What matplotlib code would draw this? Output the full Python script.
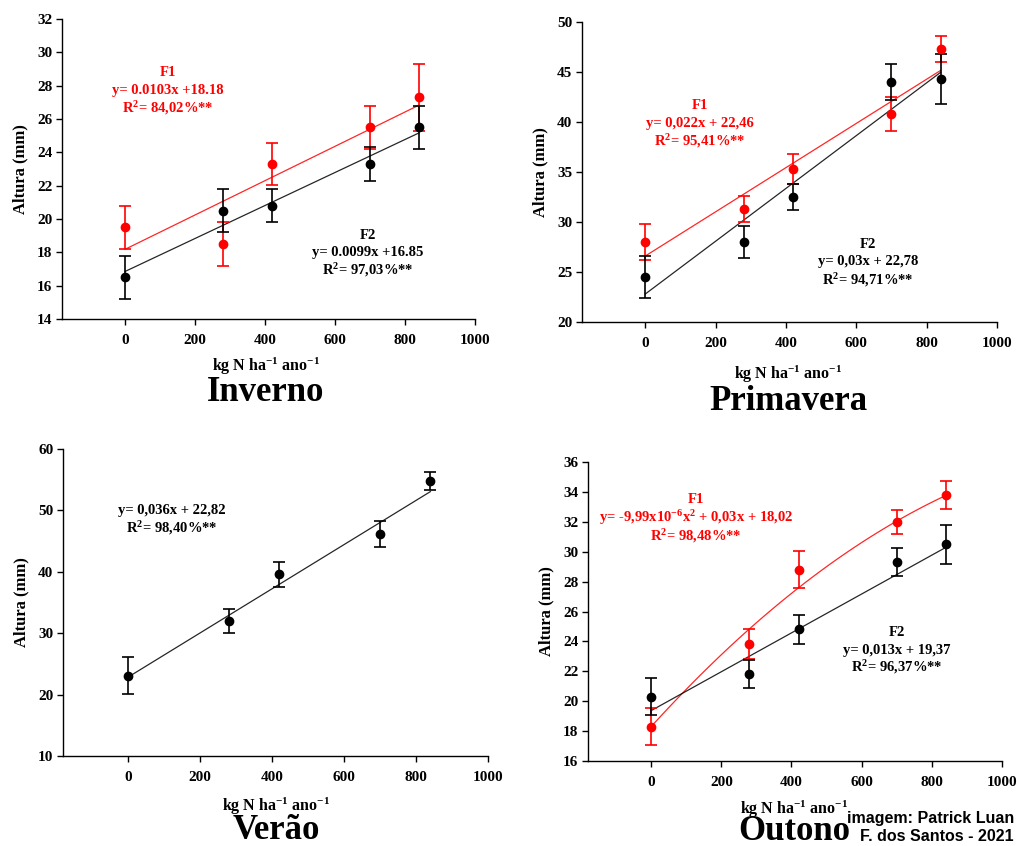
import matplotlib

matplotlib.use("Agg")
import matplotlib.pyplot as plt
import numpy as np

plt.rcParams["font.family"] = ["Liberation Serif", "DejaVu Serif"]
plt.rcParams["font.weight"] = "bold"
plt.rcParams["mathtext.fontset"] = "custom"
plt.rcParams["mathtext.rm"] = "Liberation Serif:bold"
plt.rcParams["mathtext.it"] = "Liberation Serif:bold"
plt.rcParams["mathtext.bf"] = "Liberation Serif:bold"
plt.rcParams["mathtext.default"] = "rm"

RED = "#ff0000"
BLACK = "#000000"

doses = [0, 280, 420, 700, 840]

# Inverno
inv_f1 = [19.5, 18.5, 23.3, 25.5, 27.3]
inv_f1_err = [1.3, 1.3, 1.25, 1.3, 2.0]
inv_f2 = [16.5, 20.5, 20.8, 23.3, 25.5]
inv_f2_err = [1.3, 1.3, 1.0, 1.0, 1.3]
inv_fit_f1 = [0.0103, 18.18]
inv_fit_f2 = [0.0099, 16.85]

# Primavera
pri_f1 = [28.0, 31.3, 35.3, 40.8, 47.3]
pri_f1_err = [1.8, 1.3, 1.5, 1.7, 1.3]
pri_f2 = [24.5, 28.0, 32.5, 44.0, 44.3]
pri_f2_err = [2.1, 1.6, 1.3, 1.8, 2.5]
pri_fit_f1 = [0.0221, 26.6]
pri_fit_f2 = [0.0264, 22.8]

# Verao
ver_f = [23.1, 32.0, 39.6, 46.2, 54.8]
ver_f_err = [3.0, 2.0, 2.0, 2.1, 1.5]
ver_fit = [0.036, 22.82]

# Outono
out_f1 = [18.3, 23.8, 28.8, 32.0, 33.8]
out_f1_err = [1.25, 1.0, 1.25, 0.8, 0.95]
out_f2 = [20.3, 21.8, 24.8, 29.3, 30.5]
out_f2_err = [1.25, 0.95, 0.95, 0.95, 1.3]
out_fit_f1 = [-8.8e-6, 0.0258, 18.3]
out_fit_f2 = [0.013, 19.37]

XLABEL = "kg N ha$^{-1}$ ano$^{-1}$"


def axes_box(left, top, right, bottom, w=1017, h=846):
    return [left / w, 1 - bottom / h, (right - left) / w, (bottom - top) / h]


def style_axes(ax, ylim, yticks):
    ax.set_xlim(-180, 1000)
    ax.set_ylim(*ylim)
    ax.set_xticks(range(0, 1001, 200))
    ax.set_yticks(yticks)
    for side in ("top", "right"):
        ax.spines[side].set_visible(False)
    for side in ("left", "bottom"):
        ax.spines[side].set_linewidth(1.0)
    ax.tick_params(axis="both", direction="out", length=4, width=1.0, labelsize=11)
    ax.tick_params(axis="x", pad=7)
    ax.tick_params(axis="y", pad=3)
    for lab in ax.get_xticklabels() + ax.get_yticklabels():
        lab.set_fontweight("bold")
    ax.set_ylabel("Altura (mm)", fontsize=12, fontweight="bold", labelpad=6)


def points(ax, y, err, color):
    ax.errorbar(doses, y, yerr=err, fmt="o", color=color, ms=6, elinewidth=1.2,
                capsize=4, capthick=1.2, ecolor=color, zorder=3)


def fit_line(ax, coefs, color):
    xs = np.linspace(doses[0], doses[-1], 100)
    ax.plot(xs, np.polyval(coefs, xs), color=color, lw=0.9, alpha=0.85, zorder=2)


def eq_text(ax, x, ys, lines, color):
    for y, s in zip(ys, lines):
        ax.text(x, y, s, transform=ax.transAxes, ha="center", va="center",
                fontsize=10.5, fontweight="bold", color=color)


def fig_text(x, y, s, **kw):
    fig.text(x / 1017, 1 - y / 846, s, **kw)


fig = plt.figure(figsize=(10.17, 8.46), dpi=100)

# Inverno
ax1 = fig.add_axes(axes_box(62, 19, 475, 319))
points(ax1, inv_f1, inv_f1_err, RED)
points(ax1, inv_f2, inv_f2_err, BLACK)
fit_line(ax1, inv_fit_f1, RED)
fit_line(ax1, inv_fit_f2, BLACK)
style_axes(ax1, (14, 32), range(14, 33, 2))
eq_text(ax1, 0.257, [0.823, 0.763, 0.703],
        ["F1", "y= 0.0103x +18.18", "R$^2$= 84,02%**"], RED)
eq_text(ax1, 0.741, [0.28, 0.223, 0.163],
        ["F2", "y= 0.0099x +16.85", "R$^2$= 97,03%**"], BLACK)

# Primavera
ax2 = fig.add_axes(axes_box(582, 22, 997, 322))
points(ax2, pri_f1, pri_f1_err, RED)
points(ax2, pri_f2, pri_f2_err, BLACK)
fit_line(ax2, pri_fit_f1, RED)
fit_line(ax2, pri_fit_f2, BLACK)
style_axes(ax2, (20, 50), range(20, 51, 5))
eq_text(ax2, 0.284, [0.72, 0.663, 0.603],
        ["F1", "y= 0,022x + 22,46", "R$^2$= 95,41%**"], RED)
eq_text(ax2, 0.689, [0.257, 0.2, 0.14],
        ["F2", "y= 0,03x + 22,78", "R$^2$= 94,71%**"], BLACK)

# Verao
ax3 = fig.add_axes(axes_box(63, 449, 488, 756))
points(ax3, ver_f, ver_f_err, BLACK)
fit_line(ax3, ver_fit, BLACK)
style_axes(ax3, (10, 60), range(10, 61, 10))
eq_text(ax3, 0.256, [0.801, 0.743],
        ["y= 0,036x + 22,82", "R$^2$= 98,40%**"], BLACK)

# Outono
ax4 = fig.add_axes(axes_box(588, 462, 1002, 761))
points(ax4, out_f1, out_f1_err, RED)
points(ax4, out_f2, out_f2_err, BLACK)
fit_line(ax4, out_fit_f1, RED)
fit_line(ax4, out_fit_f2, BLACK)
style_axes(ax4, (16, 36), range(16, 37, 2))
eq_text(ax4, 0.261, [0.873, 0.813, 0.753],
        ["F1", "y= -9,99x10$^{-6}$x$^2$ + 0,03x + 18,02", "R$^2$= 98,48%**"], RED)
eq_text(ax4, 0.746, [0.431, 0.371, 0.314],
        ["F2", "y= 0,013x + 19,37", "R$^2$= 96,37%**"], BLACK)

# x labels and season titles, placed under each panel
for name, x, ylab, ytitle in [("Inverno", 266, 366, 392), ("Primavera", 788, 374, 401),
                              ("Verão", 276, 806, 830), ("Outono", 794, 809, 831)]:
    fig_text(x, ylab, XLABEL, ha="center", va="center", fontsize=11.5, fontweight="bold")
    fig_text(x, ytitle, name, ha="center", va="center", fontsize=25, fontweight="bold")

fig_text(1014, 818, "imagem: Patrick Luan", ha="right", va="center",
         fontsize=11.5, fontweight="bold", family="Liberation Sans")
fig_text(1014, 836, "F. dos Santos - 2021", ha="right", va="center",
         fontsize=11.5, fontweight="bold", family="Liberation Sans")

fig.savefig("out.png", dpi=100, facecolor="white")
